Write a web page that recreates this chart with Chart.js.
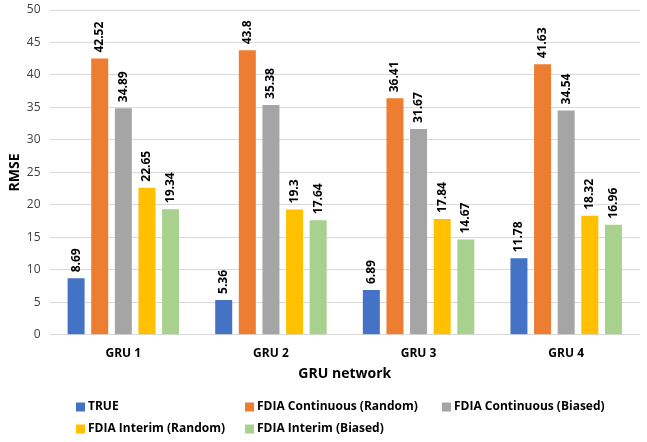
<!DOCTYPE html>
<html>
<head>
<meta charset="utf-8">
<script src="https://cdn.jsdelivr.net/npm/chart.js@4"></script>
<style>
  html, body { margin: 0; padding: 0; background: #fff; }
  #wrap { width: 647px; height: 442px; position: relative; }
</style>
</head>
<body>
<div id="wrap"><canvas id="chart"></canvas></div>
<script>
// categories and series
const categories = ["GRU 1", "GRU 2", "GRU 3", "GRU 4"];
const seriesNames = ["TRUE", "FDIA Continuous (Random)", "FDIA Continuous (Biased)",
                     "FDIA Interim (Random)", "FDIA Interim (Biased)"];
const trueVals = [8.69, 5.36, 6.89, 11.78];
const contRandom = [42.52, 43.8, 36.41, 41.63];
const contBiased = [34.89, 35.38, 31.67, 34.54];
const interimRandom = [22.65, 19.3, 17.84, 18.32];
const interimBiased = [19.34, 17.64, 14.67, 16.96];
const colors = ["#4472C4", "#ED7D31", "#A5A5A5", "#FFC000", "#A9D18E"];

const FONT = "'Open Sans', 'DejaVu Sans', sans-serif";

// value labels, rotated, just above each bar
const barLabels = {
  id: 'barLabels',
  afterDatasetsDraw(chart) {
    const ctx = chart.ctx;
    ctx.save();
    ctx.font = "bold 12px " + FONT;
    ctx.fillStyle = "#000";
    ctx.textAlign = "left";
    ctx.textBaseline = "middle";
    chart.data.datasets.forEach((ds, i) => {
      const meta = chart.getDatasetMeta(i);
      meta.data.forEach((bar, j) => {
        ctx.save();
        ctx.translate(bar.x, bar.y - 6);
        ctx.rotate(-Math.PI / 2);
        ctx.fillText(String(ds.data[j]), 0, 0);
        ctx.restore();
      });
    });
    ctx.restore();
  }
};

// legend in aligned columns like the original
const gridLegend = {
  id: 'gridLegend',
  afterDraw(chart) {
    const ctx = chart.ctx;
    const colX = [76, 245, 442];
    const rowY = [407, 429];
    ctx.save();
    ctx.font = "bold 12px " + FONT;
    ctx.textBaseline = "middle";
    ctx.textAlign = "left";
    chart.data.datasets.forEach((ds, i) => {
      const x = colX[i % 3];
      const y = rowY[Math.floor(i / 3)];
      ctx.fillStyle = ds.backgroundColor;
      ctx.fillRect(x, y - 4.5, 9, 9);
      ctx.fillStyle = "#000";
      ctx.fillText(ds.label, x + 12, y);
    });
    ctx.restore();
  }
};

const allSeries = [trueVals, contRandom, contBiased, interimRandom, interimBiased];

const data = {
  labels: categories,
  datasets: allSeries.map((vals, i) => ({
    label: seriesNames[i],
    data: vals,
    backgroundColor: colors[i],
    categoryPercentage: 0.8,
    barPercentage: 0.72
  }))
};

const options = {
  responsive: true,
  maintainAspectRatio: false,
  animation: false,
  layout: { padding: { left: 7, right: 7, top: 10, bottom: 60 } },
  plugins: {
    legend: { display: false },
    tooltip: { enabled: false }
  },
  scales: {
    x: {
      grid: { display: false },
      border: { display: false },
      ticks: { color: "#000", font: { family: FONT, size: 12, weight: "bold" }, padding: 4 },
      title: { display: true, text: "GRU network", color: "#000",
               font: { family: FONT, size: 14, weight: "bold" }, padding: { top: 0, bottom: 0 } }
    },
    y: {
      min: 0,
      max: 50,
      afterFit(scale) { scale.paddingTop = 0; },
      ticks: { stepSize: 5, color: "#404040", font: { family: FONT, size: 12 }, padding: 9 },
      grid: { color: "#D9D9D9", drawTicks: false },
      border: { display: false },
      title: { display: true, text: "RMSE", color: "#000",
               font: { family: FONT, size: 14, weight: "bold" }, padding: { top: 0, bottom: -6 } }
    }
  }
};

const ctx = document.getElementById('chart').getContext('2d');
const myChart = new Chart(ctx, {
  type: 'bar',
  data: data,
  options: options,
  plugins: [barLabels, gridLegend]
});
</script>
</body>
</html>
